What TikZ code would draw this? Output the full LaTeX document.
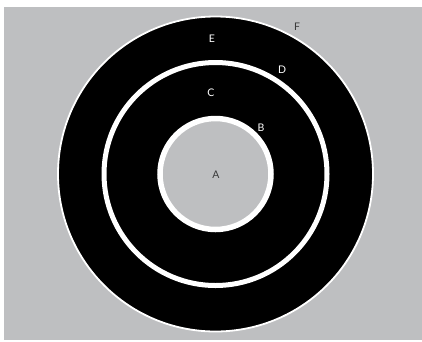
\documentclass[tikz,border=0pt]{standalone}
\usepackage{fontspec}
\setmainfont{Lato}
\definecolor{bggray}{HTML}{BEBFC1}
\definecolor{darktxt}{HTML}{3A3A3A}
\begin{document}
\begin{tikzpicture}[x=1pt,y=-1pt,
  lbl/.style={font=\fontsize{10.5}{12}\selectfont, inner sep=0pt},
  lightlbl/.style={lbl, text=white},
  darklbl/.style={lbl, text=darktxt}]
\useasboundingbox (0,0) rectangle (422,341);
\fill[white] (0,0) rectangle (422,341);
\fill[bggray] (4,7) rectangle (422,340);
\coordinate (ctr) at (215.5,174);
\draw[white, line width=1.8pt, fill=black] (ctr) circle[radius=157.5];
\draw[white, line width=5pt] (ctr) circle[radius=111.5];
\draw[white, line width=5.5pt, fill=bggray] (ctr) circle[radius=55.5];
\node[darklbl] (A) at (216,175) {A};
\node[lightlbl] (B) at (261,128) {B};
\node[lightlbl] (C) at (211,93) {C};
\node[lightlbl] (D) at (282,70) {D};
\node[lightlbl] (E) at (212,39) {E};
\node[darklbl] (F) at (297,27) {F};
\end{tikzpicture}
\end{document}
